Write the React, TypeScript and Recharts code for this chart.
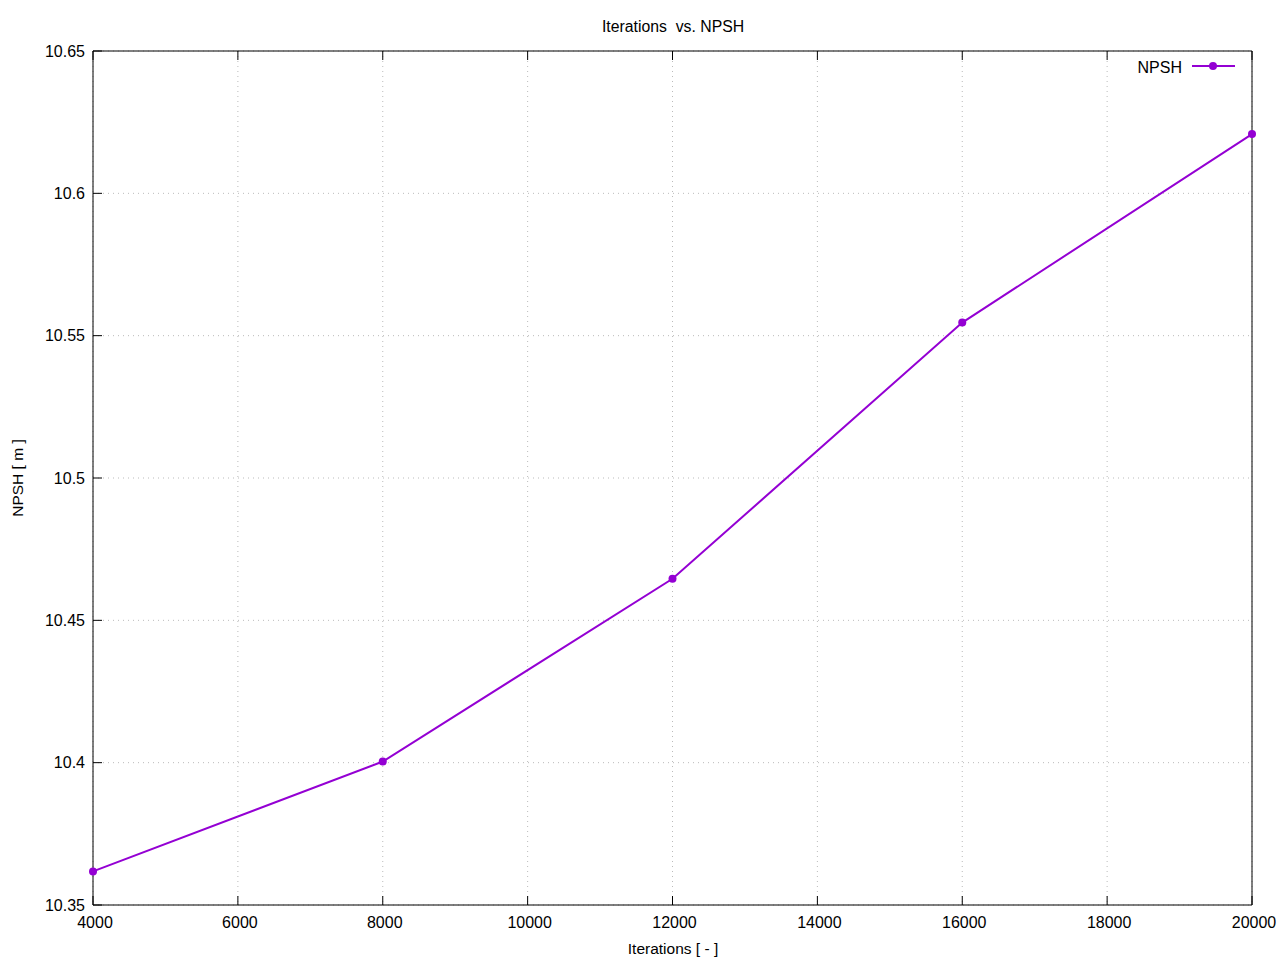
import React from "react";
import { LineChart, Line, XAxis, YAxis, CartesianGrid } from "recharts";

const iterations = [4000, 8000, 12000, 16000, 20000];
const npsh = [10.3618, 10.4004, 10.4646, 10.5546, 10.6208];
const xTicks = [4000, 6000, 8000, 10000, 12000, 14000, 16000, 18000, 20000];
const yTicks = [10.35, 10.4, 10.45, 10.5, 10.55, 10.6, 10.65];

const data = iterations.map((it, i) => ({ it, npsh: npsh[i] }));

const FONT = "'Liberation Sans', Arial, sans-serif";
const COLOR = "#9400d3";
const TICK = 9;

const fmtY = (v: number) => String(Number(v.toFixed(2)));

const BottomTick = (props: any) => {
  const { x, y, payload } = props;
  return (
    <g>
      <line x1={x} y1={y} x2={x} y2={y - TICK} stroke="#000" />
      <text x={x + 2} y={y + 17} textAnchor="middle" dominantBaseline="central" fontSize={16} fontFamily={FONT} fill="#000">
        {payload.value}
      </text>
    </g>
  );
};

const TopTick = (props: any) => {
  const { x, y } = props;
  return <line x1={x} y1={y} x2={x} y2={y + TICK} stroke="#000" />;
};

const LeftTick = (props: any) => {
  const { x, y, payload } = props;
  return (
    <g>
      <line x1={x} y1={y} x2={x + TICK} y2={y} stroke="#000" />
      <text x={x - 8} y={y} textAnchor="end" dominantBaseline="central" fontSize={16} fontFamily={FONT} fill="#000">
        {fmtY(payload.value)}
      </text>
    </g>
  );
};

const RightTick = (props: any) => {
  const { x, y } = props;
  return <line x1={x} y1={y} x2={x - TICK} y2={y} stroke="#000" />;
};

export default function App() {
  return (
    <div style={{ position: "absolute", left: 0, top: 0, width: 1280, height: 960, background: "#fff" }}>
      <LineChart width={1280} height={960} data={data} margin={{ top: 50, right: 27, bottom: 54, left: 92 }}>
        <CartesianGrid stroke="#bbbbbb" strokeDasharray="1 4" />
        <XAxis
          dataKey="it"
          type="number"
          domain={[4000, 20000]}
          ticks={xTicks}
          height={1}
          tickSize={0}
          tickMargin={0}
          stroke="#000"
          tick={<BottomTick />}
        />
        <XAxis
          xAxisId="top"
          orientation="top"
          dataKey="it"
          type="number"
          domain={[4000, 20000]}
          ticks={xTicks}
          height={1}
          tickSize={0}
          tickMargin={0}
          stroke="#000"
          tick={<TopTick />}
        />
        <YAxis
          type="number"
          domain={[10.35, 10.65]}
          ticks={yTicks}
          width={1}
          tickSize={0}
          tickMargin={0}
          stroke="#000"
          tick={<LeftTick />}
        />
        <YAxis
          yAxisId="right"
          orientation="right"
          type="number"
          domain={[10.35, 10.65]}
          ticks={yTicks}
          width={1}
          tickSize={0}
          tickMargin={0}
          stroke="#000"
          tick={<RightTick />}
        />
        <Line
          dataKey="npsh"
          name="NPSH"
          stroke={COLOR}
          strokeWidth={2}
          dot={{ r: 4, fill: COLOR, stroke: COLOR, strokeWidth: 0 }}
          activeDot={false}
          isAnimationActive={false}
        />
        <g>
          <text x={1182} y={67} textAnchor="end" dominantBaseline="central" fontSize={16} fontFamily={FONT} fill="#000">
            NPSH
          </text>
          <line x1={1192} y1={66} x2={1235} y2={66} stroke={COLOR} strokeWidth={2} />
          <circle cx={1213} cy={66} r={4} fill={COLOR} />
        </g>
        <text
          x={673}
          y={26}
          textAnchor="middle"
          dominantBaseline="central"
          fontSize={15.8}
          fontFamily={FONT}
          fill="#000"
          style={{ whiteSpace: "pre" }}
        >
          {"Iterations  vs. NPSH"}
        </text>
        <text x={673} y={948} textAnchor="middle" dominantBaseline="central" fontSize={15.5} fontFamily={FONT} fill="#000">
          Iterations [ - ]
        </text>
        <text
          x={17}
          y={478}
          textAnchor="middle"
          dominantBaseline="central"
          fontSize={15.5}
          fontFamily={FONT}
          fill="#000"
          transform="rotate(-90 17 478)"
        >
          NPSH [ m ]
        </text>
      </LineChart>
    </div>
  );
}
